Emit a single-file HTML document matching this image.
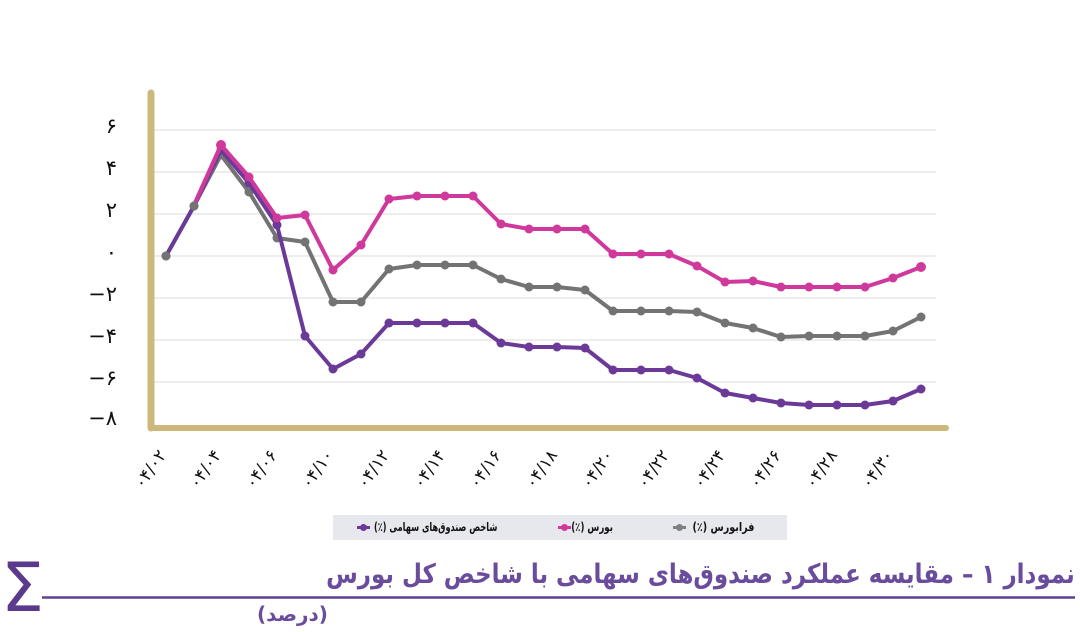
<!DOCTYPE html>
<html><head><meta charset="utf-8">
<style>
html,body{margin:0;padding:0;background:#fff;}
body{width:1080px;height:632px;position:relative;overflow:hidden;font-family:"DejaVu Sans","Liberation Sans",sans-serif;}
.abs{position:absolute;white-space:nowrap;}
.lg{position:absolute;top:518px;font:bold 12px "DejaVu Sans",sans-serif;color:#111;direction:rtl;white-space:nowrap;line-height:18px;transform-origin:right center;}
</style></head>
<body>
<svg width="1080" height="632" style="position:absolute;left:0;top:0">
  <g stroke="#e7e7e7" stroke-width="1.5">
    <line x1="152" y1="130" x2="936" y2="130"/>
    <line x1="152" y1="172" x2="936" y2="172"/>
    <line x1="152" y1="214" x2="936" y2="214"/>
    <line x1="152" y1="256" x2="936" y2="256"/>
    <line x1="152" y1="298" x2="936" y2="298"/>
    <line x1="152" y1="340" x2="936" y2="340"/>
    <line x1="152" y1="382" x2="936" y2="382"/>
  </g>
  <line x1="151" y1="93" x2="151" y2="428" stroke="#cdb87c" stroke-width="7" stroke-linecap="round"/>
  <line x1="151" y1="428" x2="946" y2="428" stroke="#cdb87c" stroke-width="6" stroke-linecap="round"/>
  <g font-family="DejaVu Sans, sans-serif" font-size="21" fill="#111" text-anchor="end">
    <text x="117" y="133">۶</text>
    <text x="117" y="175">۴</text>
    <text x="117" y="217">۲</text>
    <text x="117" y="259">۰</text>
    <text x="117" y="301">−۲</text>
    <text x="117" y="343">−۴</text>
    <text x="117" y="385">−۶</text>
    <text x="117" y="425">−۸</text>
  </g>
  <g font-family="DejaVu Sans, sans-serif" font-size="17" letter-spacing="3" fill="#111" text-anchor="end">
    <text transform="translate(167,455) rotate(-55)">۰۴/۰۲</text>
    <text transform="translate(222,455) rotate(-55)">۰۴/۰۴</text>
    <text transform="translate(278,455) rotate(-55)">۰۴/۰۶</text>
    <text transform="translate(334,455) rotate(-55)">۰۴/۱۰</text>
    <text transform="translate(390,455) rotate(-55)">۰۴/۱۲</text>
    <text transform="translate(446,455) rotate(-55)">۰۴/۱۴</text>
    <text transform="translate(502,455) rotate(-55)">۰۴/۱۶</text>
    <text transform="translate(558,455) rotate(-55)">۰۴/۱۸</text>
    <text transform="translate(614,455) rotate(-55)">۰۴/۲۰</text>
    <text transform="translate(670,455) rotate(-55)">۰۴/۲۲</text>
    <text transform="translate(726,455) rotate(-55)">۰۴/۲۴</text>
    <text transform="translate(782,455) rotate(-55)">۰۴/۲۶</text>
    <text transform="translate(838,455) rotate(-55)">۰۴/۲۸</text>
    <text transform="translate(894,455) rotate(-55)">۰۴/۳۰</text>
  </g>
  <g fill="none" stroke="#737373" stroke-width="4" stroke-linejoin="round">
    <polyline points="166,256 194,206 221,155 249,192 277,238 305,242 333,302 361,302 389,269 417,265 445,265 473,265 501,279 529,287 557,287 585,290 613,311 641,311 669,311 697,312 725,323 753,328 781,337 809,336 837,336 865,336 893,331 921,317"/>
  </g>
  <g fill="#737373">
    <circle cx="166" cy="256" r="4.5"/><circle cx="194" cy="206" r="4.5"/><circle cx="221" cy="155" r="4.5"/><circle cx="249" cy="192" r="4.5"/><circle cx="277" cy="238" r="4.5"/><circle cx="305" cy="242" r="4.5"/><circle cx="333" cy="302" r="4.5"/><circle cx="361" cy="302" r="4.5"/><circle cx="389" cy="269" r="4.5"/><circle cx="417" cy="265" r="4.5"/><circle cx="445" cy="265" r="4.5"/><circle cx="473" cy="265" r="4.5"/><circle cx="501" cy="279" r="4.5"/><circle cx="529" cy="287" r="4.5"/><circle cx="557" cy="287" r="4.5"/><circle cx="585" cy="290" r="4.5"/><circle cx="613" cy="311" r="4.5"/><circle cx="641" cy="311" r="4.5"/><circle cx="669" cy="311" r="4.5"/><circle cx="697" cy="312" r="4.5"/><circle cx="725" cy="323" r="4.5"/><circle cx="753" cy="328" r="4.5"/><circle cx="781" cy="337" r="4.5"/><circle cx="809" cy="336" r="4.5"/><circle cx="837" cy="336" r="4.5"/><circle cx="865" cy="336" r="4.5"/><circle cx="893" cy="331" r="4.5"/><circle cx="921" cy="317" r="4.5"/>
  </g>
  <g fill="none" stroke="#6b3a98" stroke-width="4" stroke-linejoin="round">
    <polyline points="166,256 194,206 221,150 249,183 277,225 305,336 333,369 361,354 389,323 417,323 445,323 473,323 501,343 529,347 557,347 585,348 613,370 641,370 669,370 697,378 725,393 753,398 781,403 809,405 837,405 865,405 893,401 921,389"/>
  </g>
  <g fill="#6b3a98">
    <circle cx="221" cy="150" r="4.5"/><circle cx="249" cy="183" r="4.5"/><circle cx="277" cy="225" r="4.5"/><circle cx="305" cy="336" r="4.5"/><circle cx="333" cy="369" r="4.5"/><circle cx="361" cy="354" r="4.5"/><circle cx="389" cy="323" r="4.5"/><circle cx="417" cy="323" r="4.5"/><circle cx="445" cy="323" r="4.5"/><circle cx="473" cy="323" r="4.5"/><circle cx="501" cy="343" r="4.5"/><circle cx="529" cy="347" r="4.5"/><circle cx="557" cy="347" r="4.5"/><circle cx="585" cy="348" r="4.5"/><circle cx="613" cy="370" r="4.5"/><circle cx="641" cy="370" r="4.5"/><circle cx="669" cy="370" r="4.5"/><circle cx="697" cy="378" r="4.5"/><circle cx="725" cy="393" r="4.5"/><circle cx="753" cy="398" r="4.5"/><circle cx="781" cy="403" r="4.5"/><circle cx="809" cy="405" r="4.5"/><circle cx="837" cy="405" r="4.5"/><circle cx="865" cy="405" r="4.5"/><circle cx="893" cy="401" r="4.5"/><circle cx="921" cy="389" r="4.5"/>
  </g>
  <g fill="none" stroke="#d0399c" stroke-width="4" stroke-linejoin="round">
    <polyline points="194,205 221,145 249,177 277,218 305,215 333,270 361,245 389,199 417,196 445,196 473,196 501,224 529,229 557,229 585,229 613,254 641,254 669,254 697,266 725,282 753,281 781,287 809,287 837,287 865,287 893,278 921,267"/>
  </g>
  <g fill="#d0399c">
    <circle cx="221" cy="145" r="5"/><circle cx="249" cy="177" r="4.5"/><circle cx="277" cy="218" r="4.5"/><circle cx="305" cy="215" r="4.5"/><circle cx="333" cy="270" r="4.5"/><circle cx="361" cy="245" r="4.5"/><circle cx="389" cy="199" r="4.5"/><circle cx="417" cy="196" r="4.5"/><circle cx="445" cy="196" r="4.5"/><circle cx="473" cy="196" r="4.5"/><circle cx="501" cy="224" r="4.5"/><circle cx="529" cy="229" r="4.5"/><circle cx="557" cy="229" r="4.5"/><circle cx="585" cy="229" r="4.5"/><circle cx="613" cy="254" r="4.5"/><circle cx="641" cy="254" r="4.5"/><circle cx="669" cy="254" r="4.5"/><circle cx="697" cy="266" r="4.5"/><circle cx="725" cy="282" r="4.5"/><circle cx="753" cy="281" r="4.5"/><circle cx="781" cy="287" r="4.5"/><circle cx="809" cy="287" r="4.5"/><circle cx="837" cy="287" r="4.5"/><circle cx="865" cy="287" r="4.5"/><circle cx="893" cy="278" r="4.5"/><circle cx="921" cy="267" r="5"/>
  </g>
  <circle cx="194" cy="206" r="4.5" fill="#737373"/>
  <circle cx="166" cy="256" r="4.5" fill="#737373"/>
  <rect x="333" y="515" width="454" height="25" fill="#e7e7ee"/>
  <line x1="357" y1="527.5" x2="370" y2="527.5" stroke="#6b3a98" stroke-width="3"/>
  <circle cx="363.5" cy="527.5" r="3.5" fill="#6b3a98"/>
  <line x1="558" y1="527.5" x2="571" y2="527.5" stroke="#d0399c" stroke-width="3"/>
  <circle cx="564.5" cy="527.5" r="3.5" fill="#d0399c"/>
  <line x1="673" y1="527.5" x2="686" y2="527.5" stroke="#808080" stroke-width="3"/>
  <circle cx="679.5" cy="527.5" r="3.5" fill="#808080"/>
  <line x1="42" y1="597.5" x2="1075" y2="597.5" stroke="#5e418f" stroke-width="2.5"/>
  <text x="1" y="611" font-family="DejaVu Sans, sans-serif" font-size="68" fill="#5b3a8e">Σ</text>
</svg>

<div class="lg" style="right:583px;transform:scaleX(0.68);">شاخص صندوق‌های سهامی (٪)</div>
<div class="lg" style="right:467px;transform:scaleX(0.72);">بورس (٪)</div>
<div class="lg" style="right:326px;transform:scaleX(0.8);">فرابورس (٪)</div>

<div class="abs" style="right:5px;top:556px;font:bold 27px 'DejaVu Sans',sans-serif;color:#6a4c9c;direction:rtl;line-height:38px;transform:scaleX(0.85);transform-origin:right center;">نمودار ۱ – مقایسه عملکرد صندوق‌های سهامی با شاخص کل بورس</div>
<div class="abs" style="left:257px;top:600px;font:bold 20px 'DejaVu Sans',sans-serif;color:#6a4c9c;direction:rtl;line-height:28px;">(درصد)</div>
</body></html>
